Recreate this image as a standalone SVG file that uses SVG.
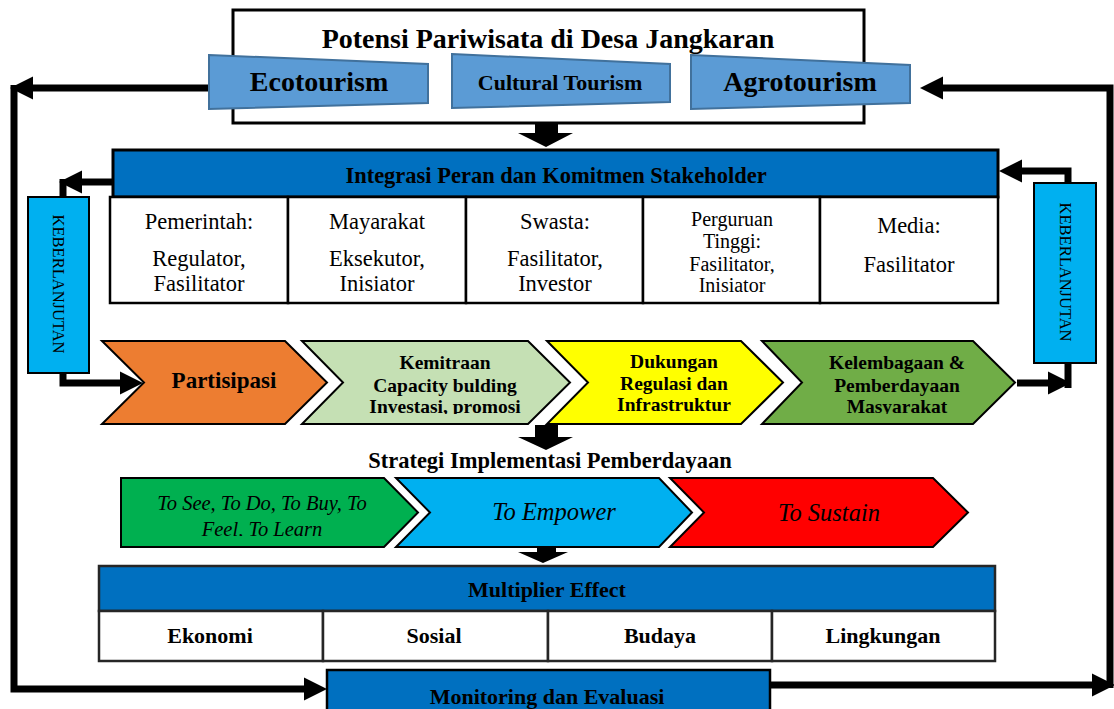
<svg xmlns="http://www.w3.org/2000/svg" width="1114" height="709" viewBox="0 0 1114 709">
<style>
text{font-family:"Liberation Serif","Times New Roman",serif;fill:#000;text-anchor:middle}
.b{font-weight:bold}
.it{font-style:italic}
.reg{font-size:22.5px}
.small{font-size:20px}
.trap{fill:#5B9BD5;stroke:#41719C;stroke-width:2}
.bar{fill:#0070C0;stroke:#000;stroke-width:3}
.cell{fill:#fff;stroke:#000;stroke-width:2.5}
.chev{stroke:#000;stroke-width:2}
.line{fill:none;stroke:#000;stroke-width:7}
.blk{fill:#000}
.vbox{fill:#00B0F0;stroke:#000;stroke-width:2}
.vt{font-size:16.5px}
</style>
<defs>
<marker id="ah" markerUnits="userSpaceOnUse" markerWidth="23" markerHeight="24" refX="0" refY="11.5" orient="auto" overflow="visible">
<path d="M0,0 L23,11.5 L0,23 Z" fill="#000"/>
</marker>
<clipPath id="clip1"><rect x="0" y="330" width="1114" height="84"/></clipPath>
<clipPath id="clip2"><rect x="0" y="470" width="1114" height="66"/></clipPath>
</defs>
<rect width="1114" height="709" fill="#fff"/>

<g id="potensi">
<rect x="233" y="10" width="631" height="113" fill="#fff" stroke="#000" stroke-width="3"/>
<text class="b" x="548" y="48" font-size="28">Potensi Pariwisata di Desa Jangkaran</text>
</g>
<g id="ecotourism">
<polygon class="trap" points="209,55 428,64 428,103 209,109"/>
<text class="b" x="319" y="91" font-size="28">Ecotourism</text>
</g>
<g id="cultural">
<polygon class="trap" points="452,54 670,64 670,102 452,108"/>
<text class="b" x="560" y="90" font-size="22">Cultural Tourism</text>
</g>
<g id="agrotourism">
<polygon class="trap" points="691,55 910,65 910,103 691,109"/>
<text class="b" x="800" y="91" font-size="28">Agrotourism</text>
</g>

<g id="integrasi">
<rect class="bar" x="113" y="150" width="885" height="47"/>
<text class="b" x="556" y="183" font-size="22.5">Integrasi Peran dan Komitmen Stakeholder</text>
</g>
<g id="pemerintah">
<rect class="cell" x="110" y="197" width="178" height="106"/>
<text class="reg" x="199" y="229">Pemerintah:</text>
<text class="reg" x="199" y="266">Regulator,</text>
<text class="reg" x="199" y="291">Fasilitator</text>
</g>
<g id="masyarakat">
<rect class="cell" x="288" y="197" width="178" height="106"/>
<text class="reg" x="377" y="229">Mayarakat</text>
<text class="reg" x="377" y="266">Eksekutor,</text>
<text class="reg" x="377" y="291">Inisiator</text>
</g>
<g id="swasta">
<rect class="cell" x="466" y="197" width="177" height="106"/>
<text class="reg" x="555" y="229">Swasta:</text>
<text class="reg" x="555" y="266">Fasilitator,</text>
<text class="reg" x="555" y="291">Investor</text>
</g>
<g id="perguruan">
<rect class="cell" x="643" y="197" width="177" height="106"/>
<text class="small" x="732" y="226">Perguruan</text>
<text class="small" x="732" y="248">Tinggi:</text>
<text class="small" x="732" y="271">Fasilitator,</text>
<text class="small" x="732" y="292">Inisiator</text>
</g>
<g id="media">
<rect class="cell" x="820" y="197" width="178" height="106"/>
<text class="reg" x="909" y="233">Media:</text>
<text class="reg" x="909" y="272">Fasilitator</text>
</g>

<g id="keberlanjutan-left">
<rect class="vbox" x="28" y="197" width="61" height="176"/>
<text class="vt" transform="translate(58,284) rotate(90)" x="0" y="5.5">KEBERLANJUTAN</text>
</g>
<g id="keberlanjutan-right">
<rect class="vbox" x="1034" y="183" width="62" height="180"/>
<text class="vt" transform="translate(1065,272) rotate(90)" x="0" y="5.5">KEBERLANJUTAN</text>
</g>

<g id="partisipasi">
<polygon class="chev" fill="#ED7D31" points="102,341 285,341 327,382.5 285,424 102,424 144,382.5"/>
<text class="b" x="224" y="388" font-size="23">Partisipasi</text>
</g>
<g id="kemitraan">
<polygon class="chev" fill="#C5E0B4" points="302,341 528,341 570,382.5 528,424 302,424 343,382.5"/>
<g clip-path="url(#clip1)" font-size="19.5">
<text class="b" x="445" y="369">Kemitraan</text>
<text class="b" x="445" y="392">Capacity bulding</text>
<text class="b" x="445" y="413">Investasi, promosi</text>
</g>
</g>
<g id="dukungan">
<polygon class="chev" fill="#FFFF00" points="547,341 741,341 783,382.5 741,424 547,424 588,382.5"/>
<g clip-path="url(#clip1)" font-size="19.5">
<text class="b" x="674" y="368">Dukungan</text>
<text class="b" x="674" y="390">Regulasi dan</text>
<text class="b" x="674" y="411">Infrastruktur</text>
</g>
</g>
<g id="kelembagaan">
<polygon class="chev" fill="#70AD47" points="762,341 973,341 1015,382.5 973,424 762,424 802,382.5"/>
<g clip-path="url(#clip1)" font-size="19.5">
<text class="b" x="897" y="369">Kelembagaan &amp;</text>
<text class="b" x="897" y="392">Pemberdayaan</text>
<text class="b" x="897" y="413">Masyarakat</text>
</g>
</g>

<g id="strategi">
<text class="b" x="550" y="468" font-size="22.5">Strategi Implementasi Pemberdayaan</text>
</g>
<g id="to-see">
<polygon class="chev" fill="#00B050" points="121,478 384,478 418,512.5 384,547 121,547"/>
<g clip-path="url(#clip2)" font-size="20.5">
<text class="it" x="262" y="510">To See, To Do, To Buy, To</text>
<text class="it" x="262" y="536">Feel, To Learn</text>
</g>
</g>
<g id="to-empower">
<polygon class="chev" fill="#00B0F0" points="396,478 659,478 692,512.5 659,547 396,547 430,512.5"/>
<text class="it" x="554" y="520" font-size="24.5">To Empower</text>
</g>
<g id="to-sustain">
<polygon class="chev" fill="#FF0000" points="670,478 933,478 968,512.5 933,547 670,547 704,512.5"/>
<text class="it" x="829" y="521" font-size="24.5">To Sustain</text>
</g>

<g id="multiplier">
<rect x="99" y="566" width="896" height="45" fill="#0070C0" stroke="#262626" stroke-width="2.5"/>
<text class="b" x="547" y="597" font-size="22">Multiplier Effect</text>
</g>
<g id="ekonomi">
<rect x="99" y="611" width="224" height="50" fill="#fff" stroke="#262626" stroke-width="2.5"/>
<text class="b" x="210" y="643" font-size="22">Ekonomi</text>
</g>
<g id="sosial">
<rect x="323" y="611" width="225" height="50" fill="#fff" stroke="#262626" stroke-width="2.5"/>
<text class="b" x="434" y="643" font-size="22">Sosial</text>
</g>
<g id="budaya">
<rect x="548" y="611" width="224" height="50" fill="#fff" stroke="#262626" stroke-width="2.5"/>
<text class="b" x="660" y="643" font-size="22">Budaya</text>
</g>
<g id="lingkungan">
<rect x="772" y="611" width="223" height="50" fill="#fff" stroke="#262626" stroke-width="2.5"/>
<text class="b" x="883" y="643" font-size="22">Lingkungan</text>
</g>

<g id="monitoring">
<rect x="327" y="670" width="443" height="50" fill="#0070C0" stroke="#000" stroke-width="2.5"/>
<text class="b" x="547" y="704" font-size="22">Monitoring dan Evaluasi</text>
</g>

<g id="connectors">
<path class="line" d="M208,88 H33" marker-end="url(#ah)"/>
<path class="line" d="M14,85 V689 H304" marker-end="url(#ah)"/>
<path class="line" d="M770,685 H1092" marker-end="url(#ah)"/>
<path class="line" d="M1110,688 V88 H943" marker-end="url(#ah)"/>
<path class="line" d="M113,182 H82" marker-end="url(#ah)"/>
<path class="line" d="M63,179 V197"/>
<path class="line" d="M63,373 V383 H120" marker-end="url(#ah)"/>
<path class="line" d="M1068,183 V171 H1022" marker-end="url(#ah)"/>
<path class="line" d="M1017,383 H1048" marker-end="url(#ah)"/>
<path class="line" d="M1068,363 V388"/>
<polygon class="blk" points="535,123 558,123 558,133 573,133 546,147 518,133 535,133"/>
<polygon class="blk" points="535,425 558,425 558,437 573,437 546,450 518,437 535,437"/>
<polygon class="blk" points="537,546 556,546 556,552 568,552 543,563 518,552 537,552"/>
</g>
</svg>
